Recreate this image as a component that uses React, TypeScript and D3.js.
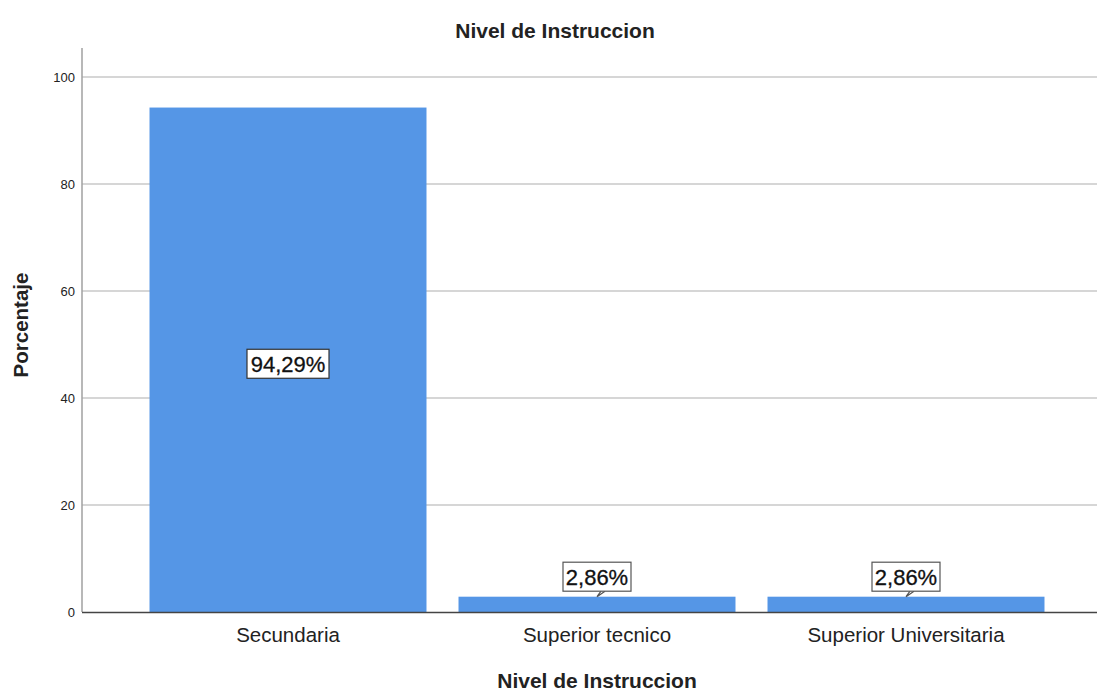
import React, { useEffect, useRef } from "react";
import * as d3 from "d3";

const categories = ["Secundaria", "Superior tecnico", "Superior Universitaria"];
const percentages = [94.29, 2.86, 2.86];
const labels = ["94,29%", "2,86%", "2,86%"];
const yTicks = [0, 20, 40, 60, 80, 100];

const W = 1099;
const H = 691;

const App: React.FC = () => {
  const svgRef = useRef<SVGSVGElement>(null);

  useEffect(() => {
    if (!svgRef.current) return;
    const svg = d3.select(svgRef.current);
    svg.selectAll("*").remove();
    const font = "'Liberation Sans', Arial, sans-serif";

    const left = 82;
    const right = 1097;
    const y = d3.scaleLinear().domain([0, 100]).range([612, 77]);
    const x = d3
      .scaleBand<string>()
      .domain(categories)
      .range([133.5, 1060.5])
      .paddingInner(0.1036)
      .paddingOuter(0.0518);

    // grid
    svg
      .append("g")
      .selectAll("line")
      .data(yTicks.filter((t) => t > 0))
      .enter()
      .append("line")
      .attr("x1", left)
      .attr("x2", right)
      .attr("y1", (d) => y(d))
      .attr("y2", (d) => y(d))
      .attr("stroke", "#d6d6d6")
      .attr("stroke-width", 2);

    // bars
    svg
      .append("g")
      .selectAll("rect")
      .data(percentages)
      .enter()
      .append("rect")
      .attr("x", (d, i) => x(categories[i])!)
      .attr("width", x.bandwidth())
      .attr("y", (d) => y(d))
      .attr("height", (d) => y(0) - y(d))
      .attr("fill", "#5596e6");

    // y axis line
    svg
      .append("line")
      .attr("x1", left)
      .attr("x2", left)
      .attr("y1", 48)
      .attr("y2", 612)
      .attr("stroke", "#a0a0a0")
      .attr("stroke-width", 1.5);

    // x axis line
    svg
      .append("line")
      .attr("x1", left)
      .attr("x2", right)
      .attr("y1", 612.5)
      .attr("y2", 612.5)
      .attr("stroke", "#444")
      .attr("stroke-width", 1.5);

    // y tick labels
    svg
      .append("g")
      .selectAll("text")
      .data(yTicks)
      .enter()
      .append("text")
      .attr("x", 75)
      .attr("y", (d) => y(d) + 5)
      .attr("text-anchor", "end")
      .attr("font-family", font)
      .attr("font-size", 13)
      .attr("fill", "#222")
      .text((d) => d);

    // category labels
    svg
      .append("g")
      .selectAll("text")
      .data(categories)
      .enter()
      .append("text")
      .attr("x", (d) => x(d)! + x.bandwidth() / 2)
      .attr("y", 642)
      .attr("text-anchor", "middle")
      .attr("font-family", font)
      .attr("font-size", 20.5)
      .attr("fill", "#222")
      .text((d) => d);

    // value labels
    const lg = svg.append("g");
    percentages.forEach((v, i) => {
      const cx = x(categories[i])! + x.bandwidth() / 2;
      const inside = y(0) - y(v) > 60;
      const cy = inside ? (y(v) + y(0)) / 2 + 4 : y(v) - 20;
      const w = inside ? 82 : 68;
      const h = 29;
      if (!inside) {
        lg.append("path")
          .attr("d", `M${cx + 4},${cy + h / 2} L${cx},${y(v)} L${cx + 8},${cy + h / 2}`)
          .attr("fill", "white")
          .attr("stroke", "#555")
          .attr("stroke-width", 1.2);
      }
      lg.append("rect")
        .attr("x", cx - w / 2)
        .attr("y", cy - h / 2)
        .attr("width", w)
        .attr("height", h)
        .attr("fill", "white")
        .attr("stroke", inside ? "#333" : "#555")
        .attr("stroke-width", 1.2);
      lg.append("text")
        .attr("x", cx)
        .attr("y", cy + 8)
        .attr("text-anchor", "middle")
        .attr("font-family", font)
        .attr("font-size", 22)
        .attr("fill", "#111")
        .attr("stroke", "#111")
        .attr("stroke-width", 0.3)
        .text(labels[i]);
    });

    // title
    svg
      .append("text")
      .attr("x", 555)
      .attr("y", 38)
      .attr("text-anchor", "middle")
      .attr("font-family", font)
      .attr("font-size", 21)
      .attr("font-weight", "bold")
      .attr("fill", "#222")
      .text("Nivel de Instruccion");

    // x axis title
    svg
      .append("text")
      .attr("x", 597)
      .attr("y", 688)
      .attr("text-anchor", "middle")
      .attr("font-family", font)
      .attr("font-size", 21)
      .attr("font-weight", "bold")
      .attr("fill", "#222")
      .text("Nivel de Instruccion");

    // y axis title
    svg
      .append("text")
      .attr("transform", "translate(28,325) rotate(-90)")
      .attr("text-anchor", "middle")
      .attr("font-family", font)
      .attr("font-size", 20.5)
      .attr("font-weight", "bold")
      .attr("fill", "#222")
      .text("Porcentaje");
  }, []);

  return (
    <div style={{ position: "fixed", left: 0, top: 0, background: "white" }}>
      <svg ref={svgRef} width={W} height={H} style={{ display: "block" }} />
    </div>
  );
};

export default App;
